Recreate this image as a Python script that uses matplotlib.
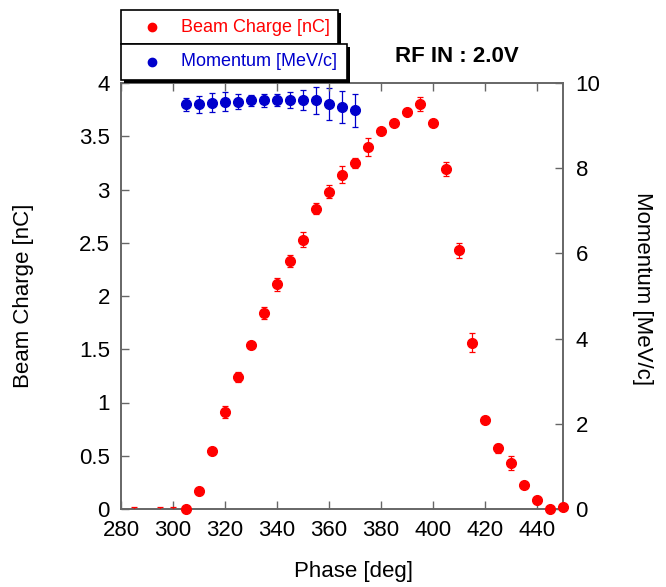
import numpy as np
import matplotlib
matplotlib.use("Agg")
import matplotlib.pyplot as plt
from matplotlib.patches import Rectangle
from matplotlib.lines import Line2D

# beam charge vs phase
phase_q = [305, 310, 315, 320, 325, 330, 335, 340, 345, 350, 355, 360, 365,
           370, 375, 380, 385, 390, 395, 400, 405, 410, 415, 420, 425, 430,
           435, 440, 445, 450]
charge = [0.00, 0.17, 0.54, 0.91, 1.24, 1.54, 1.84, 2.11, 2.33, 2.53, 2.82,
          2.98, 3.14, 3.25, 3.40, 3.55, 3.62, 3.73, 3.80, 3.62, 3.19, 2.43,
          1.56, 0.84, 0.57, 0.43, 0.23, 0.08, 0.00, 0.02]
charge_err = [0.02, 0.02, 0.02, 0.06, 0.047, 0.02, 0.053, 0.063, 0.058, 0.07,
              0.053, 0.063, 0.078, 0.05, 0.086, 0.03, 0.02, 0.03, 0.064, 0.02,
              0.064, 0.07, 0.09, 0.02, 0.04, 0.066, 0.02, 0.02, 0.02, 0.02]

# early points below zero: only the tops of their error bars show
phase_low = [285, 295, 300]
charge_low = [-0.08, -0.08, -0.08]
charge_low_err = [0.096, 0.096, 0.096]

# momentum vs phase
phase_p = [305, 310, 315, 320, 325, 330, 335, 340, 345, 350, 355, 360, 365, 370]
momentum = [9.50, 9.50, 9.54, 9.56, 9.56, 9.59, 9.59, 9.60, 9.60, 9.60, 9.59,
            9.51, 9.44, 9.36]
momentum_err = [0.15, 0.20, 0.23, 0.22, 0.18, 0.14, 0.16, 0.15, 0.19, 0.24,
                0.31, 0.37, 0.38, 0.39]

xticks = [280, 300, 320, 340, 360, 380, 400, 420, 440]
yticks_q = [0, 0.5, 1, 1.5, 2, 2.5, 3, 3.5, 4]
yticks_p = [0, 2, 4, 6, 8, 10]

RED = "#ff0000"
BLUE = "#0000cc"
SPINE = "#666666"

plt.rcParams["font.family"] = ["Liberation Sans", "DejaVu Sans"]

W, H = 666, 587
fig = plt.figure(figsize=(W / 100, H / 100), dpi=100)
ax = fig.add_axes([121 / W, 1 - 509 / H, 442 / W, 426 / H])
ax2 = ax.twinx()

eb = ax.errorbar(phase_q, charge, yerr=charge_err, fmt="o", color=RED, ms=7,
                 elinewidth=0.9, capsize=2.5, capthick=0.9, zorder=3)
for art in eb.lines[0:1]:
    art.set_clip_on(False)
ax.errorbar(phase_low, charge_low, yerr=charge_low_err, fmt="none", color=RED,
            elinewidth=0.9, capsize=2.5, capthick=0.9, zorder=3)
ax2.errorbar(phase_p, momentum, yerr=momentum_err, fmt="o", color=BLUE, ms=7,
             elinewidth=0.9, capsize=2.5, capthick=0.9, zorder=3)

ax.set_xlim(280, 450)
ax.set_ylim(0, 4)
ax2.set_ylim(0, 10)
ax.set_xticks(xticks)
ax.set_yticks(yticks_q)
ax.set_yticklabels(["%g" % v for v in yticks_q])
ax2.set_yticks(yticks_p)

ax.tick_params(axis="both", direction="in", length=6, width=1, color=SPINE,
               labelsize=16, pad=8, top=True)
ax2.tick_params(axis="y", direction="in", length=6, width=1, color=SPINE,
                labelsize=16, pad=9)
for a in (ax, ax2):
    for s in a.spines.values():
        s.set_color(SPINE)
        s.set_linewidth(1.2)
ax2.set_zorder(ax.get_zorder() - 1)
ax.patch.set_visible(False)

fig.text(24 / W, 1 - 296 / H, "Beam Charge [nC]", rotation=90, fontsize=16,
         ha="center", va="center")
fig.text(643 / W, 1 - 289 / H, "Momentum [MeV/c]", rotation=270, fontsize=16,
         ha="center", va="center")
fig.text(354 / W, 1 - 571 / H, "Phase [deg]", fontsize=16,
         ha="center", va="center")
fig.text(395 / W, 1 - 57 / H, "RF IN : 2.0V", fontsize=16, fontweight="bold",
         ha="left", va="center")


def box(x0, y0, x1, y1, off=3):
    # white box with a solid black drop shadow, pixel coords from the top
    sh = Rectangle(((x0 + off) / W, 1 - (y1 + off) / H), (x1 - x0) / W,
                   (y1 - y0) / H, transform=fig.transFigure,
                   facecolor="black", edgecolor="black", lw=0)
    bx = Rectangle((x0 / W, 1 - y1 / H), (x1 - x0) / W, (y1 - y0) / H,
                   transform=fig.transFigure, facecolor="white",
                   edgecolor="black", lw=1.2)
    fig.patches.extend([sh, bx])


box(121, 10, 338, 44)
box(121, 44, 347, 80)

for yy, label, col in [(27, "Beam Charge [nC]", RED),
                       (62, "Momentum [MeV/c]", BLUE)]:
    fig.lines.append(Line2D([152 / W], [1 - yy / H], marker="o", ms=6,
                            color=col, transform=fig.transFigure))
    fig.text(181 / W, 1 - yy / H, label, color=col, fontsize=13,
             ha="left", va="center")

fig.savefig("out.png", dpi=100)
